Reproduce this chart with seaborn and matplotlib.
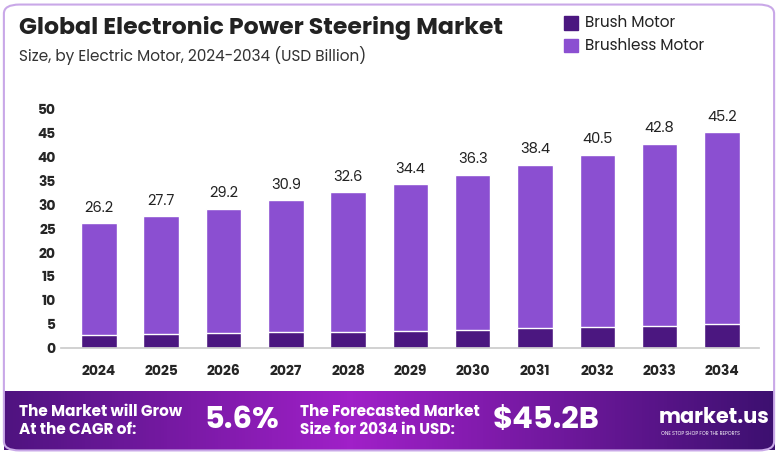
import numpy as np
import pandas as pd
import seaborn as sns
import matplotlib.pyplot as plt
from matplotlib.patches import FancyBboxPatch
from matplotlib.colors import LinearSegmentedColormap

years = ['2024', '2025', '2026', '2027', '2028', '2029', '2030', '2031', '2032', '2033', '2034']
totals = [26.2, 27.7, 29.2, 30.9, 32.6, 34.4, 36.3, 38.4, 40.5, 42.8, 45.2]
brush = [2.8, 2.9, 3.1, 3.3, 3.4, 3.6, 3.8, 4.1, 4.4, 4.6, 5.0]

df = pd.DataFrame({'year': years, 'total': totals, 'brush': brush})

sns.set_theme(style='white')
plt.rcParams['font.family'] = ['Poppins', 'Lato', 'DejaVu Sans']

fig = plt.figure(figsize=(7.78, 4.55), dpi=100)
ax = fig.add_axes([0.079, 0.235, 0.897, 0.525])

sns.barplot(data=df, x='year', y='total', color='#8b4fd1', width=0.57, ax=ax, saturation=1)
sns.barplot(data=df, x='year', y='brush', color='#4b1780', width=0.57, ax=ax, saturation=1)
for i, v in enumerate(totals):
    ax.text(i, v + 1.5, f'{v}', ha='center', va='bottom', fontsize=10.5, color='#222222')

ax.set_ylim(0, 50)
ax.set_yticks(range(0, 51, 5))
ax.set_xlabel('')
ax.set_ylabel('')
ax.tick_params(axis='both', length=0, labelsize=10)
for lab in ax.get_xticklabels() + ax.get_yticklabels():
    lab.set_fontweight('bold')
ax.tick_params(axis='x', pad=12)
ax.tick_params(axis='y', pad=4)
sns.despine(ax=ax, left=True)
ax.spines['bottom'].set_color('#cccccc')
ax.set_xlim(-0.6, 10.6)

# frame
fig.patches.append(FancyBboxPatch((0.005, 0.01), 0.99, 0.98, boxstyle='round,pad=0,rounding_size=0.02',
                                  transform=fig.transFigure, fill=False, edgecolor='#c9a8e8', linewidth=1.5))

fig.text(0.025, 0.925, 'Global Electronic Power Steering Market', fontsize=17, fontweight='bold', color='#222222')
fig.text(0.025, 0.865, 'Size, by Electric Motor, 2024-2034 (USD Billion)', fontsize=11, color='#333333')

# legend
fig.patches.append(plt.Rectangle((0.725, 0.935), 0.018, 0.03, transform=fig.transFigure, color='#4b1780'))
fig.text(0.752, 0.95, 'Brush Motor', fontsize=11, va='center', color='#222222')
fig.patches.append(plt.Rectangle((0.725, 0.885), 0.018, 0.03, transform=fig.transFigure, color='#8b4fd1'))
fig.text(0.752, 0.90, 'Brushless Motor', fontsize=11, va='center', color='#222222')

# banner
bax = fig.add_axes([0.005, 0.01, 0.99, 0.13])
grad = np.linspace(0, 1, 256)
grad = np.vstack([1 - np.abs(grad - 0.45) * 1.6] * 2)
cmap = LinearSegmentedColormap.from_list('b', ['#3d1070', '#a020c8'])
bax.imshow(grad, aspect='auto', cmap=cmap, extent=[0, 1, 0, 1])
bax.set_axis_off()
bax.text(0.02, 0.5, 'The Market will Grow\nAt the CAGR of:', color='white', fontsize=11, fontweight='bold', va='center')
bax.text(0.26, 0.5, '5.6%', color='white', fontsize=22, fontweight='bold', va='center')
bax.text(0.385, 0.5, 'The Forecasted Market\nSize for 2034 in USD:', color='white', fontsize=11, fontweight='bold', va='center')
bax.text(0.635, 0.5, '$45.2B', color='white', fontsize=22, fontweight='bold', va='center')
bax.text(0.85, 0.55, 'market.us', color='white', fontsize=15, fontweight='bold', va='center')
bax.text(0.853, 0.28, 'ONE STOP SHOP FOR THE REPORTS', color='white', fontsize=3.5, va='center')

fig.savefig('out.png', dpi=100)
